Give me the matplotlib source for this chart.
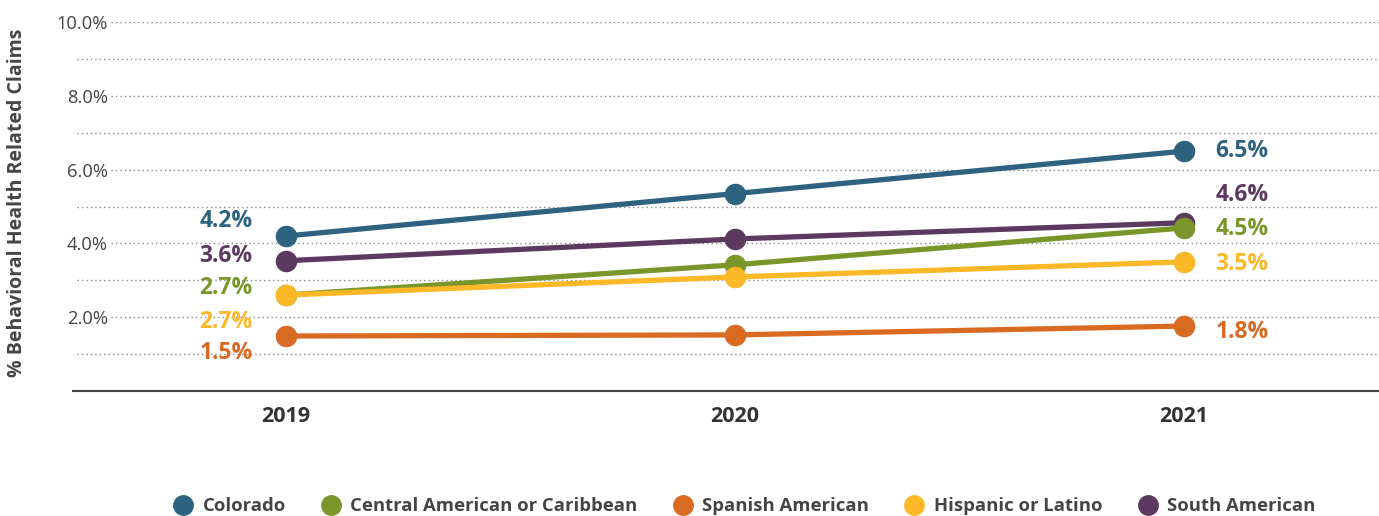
import matplotlib
matplotlib.use("Agg")
import matplotlib.pyplot as plt
from matplotlib.lines import Line2D

plt.rcParams['font.family'] = ['Open Sans', 'DejaVu Sans']

years = ["2019", "2020", "2021"]
series_names = ["Colorado", "Central American or Caribbean", "Spanish American",
                "Hispanic or Latino", "South American"]
colorado = [4.2, 5.35, 6.5]
central = [2.6, 3.42, 4.42]
spanish = [1.49, 1.52, 1.76]
hispanic = [2.6, 3.09, 3.5]
south = [3.53, 4.12, 4.56]
labels_2019 = ["4.2%", "2.7%", "1.5%", "2.7%", "3.6%"]
labels_2021 = ["6.5%", "4.5%", "1.8%", "3.5%", "4.6%"]
colors = ["#2E6380", "#7A962B", "#D96A22", "#FDB827", "#5C3A5F"]
yticks = [2, 4, 6, 8, 10]
ytick_labels = ["2.0%", "4.0%", "6.0%", "8.0%", "10.0%"]

values = [colorado, central, spanish, hispanic, south]

fig = plt.figure(figsize=(13.79, 5.16), dpi=100)
W, H = 1379, 516
ax = fig.add_axes([73 / W, 1 - 391 / H, (1379 - 73) / W, (391 - 22) / H])

x = list(range(len(years)))
ax.set_xlim(-0.475, 2.435)
ax.set_ylim(0, 10)

# gridlines
for v in [1, 3, 5, 7, 9]:
    ax.axhline(v, xmin=0.003, xmax=1, color="#888888", lw=1.0, ls=(0, (1, 2.2)), zorder=0)
for v in yticks:
    ax.axhline(v, xmin=0.029, xmax=1, color="#888888", lw=1.0, ls=(0, (1, 2.2)), zorder=0)

zorders = {0: 6, 1: 4, 2: 3, 3: 5, 4: 2}
for i, (vals, c) in enumerate(zip(values, colors)):
    ax.plot(x, vals, color=c, lw=3.8, marker="o", markersize=14.5, zorder=zorders[i],
            solid_capstyle="round")

# data labels
lab19_y = {0: 4.6, 4: 3.65, 1: 2.78, 3: 1.88, 2: 1.03}
lab21_y = {0: 6.5, 4: 5.3, 1: 4.4, 3: 3.45, 2: 1.6}
for i, c in enumerate(colors):
    ax.text(-0.075, lab19_y[i], labels_2019[i], color=c, fontsize=16.5, fontweight="bold",
            ha="right", va="center")
    ax.text(0.07 + 2, lab21_y[i], labels_2021[i], color=c, fontsize=16.5, fontweight="bold",
            ha="left", va="center")

ax.set_xticks(x)
ax.set_xticklabels(years, fontsize=15.5, fontweight="bold", color="#333333")
ax.set_yticks(yticks)
ax.set_yticklabels(ytick_labels, fontsize=13.2, color="#444444")
ax.tick_params(axis="y", length=0, pad=-25)
ax.tick_params(axis="x", length=0, pad=11)

for s in ["top", "right", "left"]:
    ax.spines[s].set_visible(False)
ax.spines["bottom"].set_color("#444444")
ax.spines["bottom"].set_linewidth(1.5)

fig.text(17 / W, 1 - 203 / H, "% Behavioral Health Related Claims", rotation=90,
         ha="center", va="center", fontsize=14, fontweight="bold", color="#444444")

handles = [Line2D([], [], color=c, marker="o", linestyle="none", markersize=14)
           for c in colors]
fig.legend(handles, series_names, loc="center", bbox_to_anchor=(740 / W, 1 - 506 / H),
           ncol=5, frameon=False, handletextpad=0.05, columnspacing=1.45,
           prop={"size": 13.3, "weight": "bold"}, labelcolor="#444444")

fig.savefig("out.png", dpi=100)
